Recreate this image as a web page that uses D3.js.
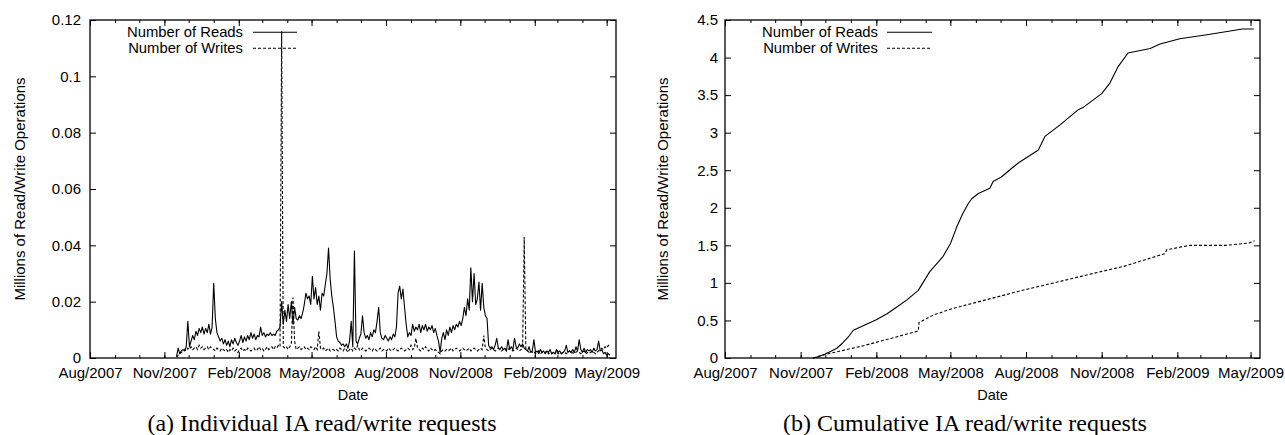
<!DOCTYPE html>
<html><head><meta charset="utf-8">
<script src="https://cdn.jsdelivr.net/npm/d3@7/dist/d3.min.js"></script>
<style>body{margin:0;background:#fff} svg{display:block}</style>
</head><body>
<svg id="chart" width="1285" height="435"></svg>
<script>
// ---------------- DATA ----------------
const seriesNames = ["Number of Reads", "Number of Writes"];
const xTickDates = ["2007-08-01","2007-11-01","2008-02-01","2008-05-01","2008-08-01","2008-11-01","2009-02-01","2009-05-01"];
const xTickLabels = ["Aug/2007","Nov/2007","Feb/2008","May/2008","Aug/2008","Nov/2008","Feb/2009","May/2009"];
const xDomain = ["2007-08-01", "2009-05-12"];

const leftYTicks = [0, 0.02, 0.04, 0.06, 0.08, 0.1, 0.12];
const leftYTickLabels = ["0", "0.02", "0.04", "0.06", "0.08", "0.1", "0.12"];
const rightYTicks = [0, 0.5, 1, 1.5, 2, 2.5, 3, 3.5, 4, 4.5];
const rightYTickLabels = ["0", "0.5", "1", "1.5", "2", "2.5", "3", "3.5", "4", "4.5"];

// (a) individual requests, sampled every 2 days from dailyStart, in thousands of operations
const dailyStart = "2007-11-16";
const dailyStepDays = 2;
const dailyReadsK = [
 0.5,3.5,1.5,2.5,3,2.5,4,13,4,6,
 8,6.5,9.5,8,10.5,9,11,8.5,10.5,9,
 12,8.5,11,26.5,14,9,7.5,6,7,5,
 6.5,4.5,6,4,6.5,5,7,5.5,4.5,6,
 8,5.5,7.5,6,8,6.5,9,7,8.5,6.5,
 8,7.5,11,8,9,7.5,8.5,8,9,8,
 8.5,8,9.5,10,11,20,12,17,13,19,
 14,20,12,18,14,13.5,15,14,16,19,
 23,21,22,19,29,21,25,19,22,17,
 23,22,26,30,39,28,22,18,13,7.5,
 6,5.5,4.5,5,4,5,3.5,6,13,4,
 38,6,5,7,8.5,15,9,7,8,6.5,
 9,7.5,10,9,13,18,9,7,6.5,8,
 7,6,7.5,6.5,8.5,7.5,11,23,25.5,21,
 24.5,18,12,7.5,9,8,12,9.5,11,10,
 12,9,11.5,10,12,9.5,11,10,11.5,9,
 10.5,8,6,2,7,9,6.5,10,8,11,
 9,11.5,10,12,11,13,11.5,14,18,15,
 21,17,32,20,30,19,21,27,17,26.5,
 18,15,14,4.5,3.5,4,3,4.5,7,3.5,
 3,4,3,3.5,2.5,6.5,3,4,3,7,
 4,3.5,5,4,5,3.5,3,2.5,4,2,
 2.5,6.5,2,2.5,1.5,3,2,2.5,1.5,2.5,
 2,3,1.5,2,1.5,3,2,2.5,1.5,2,
 2.5,4.5,2,2.5,2,3,2,4,2.5,6.5,
 3,2,3.5,2,3,2.5,3,2,3.5,2.5,
 3,6,2.5,3,1.5,2,1,1.5,1
];
const dailyWritesK = [
 0.3,1,1.5,2,2.5,3,2.5,3.5,3,4,
 3,3.5,4,3,4.5,3.5,4,3,3.5,4,
 3,4,3.5,3,2.5,3.5,3,2.5,3.5,3,
 2.5,3,2,3,2.5,3.5,2.5,3,2,3,
 3.5,2.5,3,2.5,3.5,3,2.5,3,3.5,2.5,
 3,4,3,3.5,2.5,3,4,3,3.5,4,
 3,4,3.5,4.5,4,116,4,3.5,4,3,
 4,5,21.5,6,3,3.5,4,3,3.5,4,
 3,3.5,3,4,3.5,3,4,3,9.5,3.5,
 3,3.5,2.5,3,3.5,2.5,3,3,2.5,3,
 2.5,3.5,3,2.5,3.5,3,2,3,3.5,2.5,
 3.5,3,4.5,3,2.5,3.5,3,2.5,3,3.5,
 3,2.5,3.5,3,2.5,3,3.5,2.5,3,3,
 2.5,3.5,3,2.5,3,3.5,3,2.5,3,3.5,
 3,2.5,3,3.5,3,4.5,3,3.5,7,3.5,
 3,2.5,3.5,3,4,3,2.5,3.5,3,2.5,
 3,2.5,2,1.5,2.5,3,2.5,3,2.5,3,
 3.5,2.5,3,3.5,3,2.5,3,3.5,3,2.5,
 3,3.5,2.5,3,3.5,3,2.5,3,3.5,3,
 8,3.5,3,2.5,3,3.5,3,2.5,3,3.5,
 3,2.5,3,3.5,2.5,3,3.5,3,2.5,3,
 3.5,3,2.5,3,3.5,43,3,2.5,2,2.5,
 2,2.5,1.5,2,2.5,1.5,2,1.5,2,2.5,
 1.5,2,1.5,2,1.5,2.5,1.5,2,1.5,2,
 2,1.5,2,2.5,1.5,2,1.5,2,2.5,2,
 1.5,2,2.5,1.5,2,1.5,2,2.5,2,1.5,
 2,2.5,3,3.5,3,4,3.5,4.5,4
];

// (b) cumulative requests, millions
const cumReadDates = ["2007-11-16","2007-11-23","2007-11-30","2007-12-08","2007-12-15","2007-12-22","2007-12-29",
 "2008-01-04","2008-01-18","2008-02-01","2008-02-14","2008-02-26","2008-03-10","2008-03-23","2008-04-06",
 "2008-04-22","2008-05-01","2008-05-09","2008-05-16","2008-05-23","2008-05-27","2008-06-04","2008-06-18",
 "2008-06-22","2008-07-02","2008-07-15","2008-07-23","2008-08-16","2008-08-24","2008-09-11","2008-10-04",
 "2008-10-10","2008-11-01","2008-11-11","2008-11-21","2008-12-03","2008-12-30","2009-01-11","2009-02-04",
 "2009-03-13","2009-04-21","2009-05-05"];
const cumReads = [0,0.02,0.05,0.09,0.13,0.2,0.28,
 0.37,0.44,0.51,0.59,0.68,0.78,0.9,1.15,
 1.35,1.52,1.75,1.92,2.06,2.12,2.19,2.26,
 2.35,2.41,2.53,2.6,2.77,2.95,3.1,3.31,
 3.34,3.52,3.66,3.88,4.06,4.12,4.18,4.25,
 4.31,4.38,4.38];
const cumWriteDates = ["2007-11-16","2007-12-02","2008-01-15","2008-02-15","2008-03-23","2008-03-24","2008-03-27",
 "2008-04-10","2008-05-01","2008-05-25","2008-07-31","2008-08-31","2008-10-31","2008-11-28","2009-01-17",
 "2009-01-19","2009-02-16","2009-04-01","2009-04-29","2009-05-06"];
const cumWrites = [0,0.05,0.16,0.25,0.36,0.475,0.49,
 0.57,0.65,0.72,0.91,0.99,1.15,1.22,1.39,
 1.44,1.5,1.5,1.53,1.56];

const captions = ["(a) Individual IA read/write requests", "(b) Cumulative IA read/write requests"];
const xAxisTitle = "Date";
const yAxisTitle = "Millions of Read/Write Operations";

// ---------------- DRAW ----------------
const parse = d3.timeParse("%Y-%m-%d");
const svg = d3.select("#chart");
const SANS = "'Liberation Sans', Arial, Helvetica, sans-serif";
const SERIF = "'Liberation Serif', 'Times New Roman', serif";

const t0 = parse(dailyStart);
const dailyDates = dailyReadsK.map((_, i) => d3.timeDay.offset(t0, i * dailyStepDays));
const readsSeriesA = dailyReadsK.map((v, i) => ({d: dailyDates[i], v: v / 1000}));
const writesSeriesA = dailyWritesK.map((v, i) => ({d: dailyDates[i], v: v / 1000}));
const readsSeriesB = cumReads.map((v, i) => ({d: parse(cumReadDates[i]), v}));
const writesSeriesB = cumWrites.map((v, i) => ({d: parse(cumWriteDates[i]), v}));

const panels = [
  {x0: 90, x1: 616, y0: 20, y1: 358, yMax: 0.12, yTicks: leftYTicks, yLabels: leftYTickLabels, yPad: 9,
   yTitleX: 25, legEnd: 243, legLine: [253, 297], caption: captions[0], capX: 322,
   reads: readsSeriesA, writes: writesSeriesA},
  {x0: 725, x1: 1260, y0: 20, y1: 358, yMax: 4.5, yTicks: rightYTicks, yLabels: rightYTickLabels, yPad: 7,
   yTitleX: 668, legEnd: 878, legLine: [887, 932], caption: captions[1], capX: 965,
   reads: readsSeriesB, writes: writesSeriesB}
];

const majors = xTickDates.map(parse);
const dom = xDomain.map(parse);
const minors = d3.timeMonth.range(dom[0], dom[1]);

panels.forEach(p => {
  const x = d3.scaleTime().domain([dom[0], d3.timeHour.offset(dom[1], 12)]).range([p.x0, p.x1]);
  const y = d3.scaleLinear().domain([0, p.yMax]).range([p.y1, p.y0]);
  const W = p.x1 - p.x0, H = p.y1 - p.y0;
  const g = svg.append("g");

  const styleAxis = sel => {
    sel.select(".domain").remove();
    sel.selectAll("line").attr("stroke", "#000").attr("stroke-width", 1);
    sel.selectAll("text").attr("font-family", SANS).attr("font-size", "15px").attr("fill", "#000");
  };

  // minor month ticks bottom & top
  g.append("g").attr("transform", `translate(0,${p.y1})`)
    .call(d3.axisBottom(x).tickValues(minors).tickSize(-3).tickFormat("")).call(styleAxis);
  g.append("g").attr("transform", `translate(0,${p.y0})`)
    .call(d3.axisTop(x).tickValues(minors).tickSize(-3).tickFormat("")).call(styleAxis);
  // major ticks
  g.append("g").attr("transform", `translate(0,${p.y1})`)
    .call(d3.axisBottom(x).tickValues(majors).tickSize(-6).tickPadding(9.5)
      .tickFormat((d, i) => xTickLabels[i])).call(styleAxis);
  g.append("g").attr("transform", `translate(0,${p.y0})`)
    .call(d3.axisTop(x).tickValues(majors).tickSize(-6).tickFormat("")).call(styleAxis);
  g.append("g").attr("transform", `translate(${p.x0},0)`)
    .call(d3.axisLeft(y).tickValues(p.yTicks).tickSize(-6).tickPadding(p.yPad)
      .tickFormat((d, i) => p.yLabels[i])).call(styleAxis);
  g.append("g").attr("transform", `translate(${p.x1},0)`)
    .call(d3.axisRight(y).tickValues(p.yTicks).tickSize(-6).tickFormat("")).call(styleAxis);

  // frame
  g.append("rect").attr("x", p.x0).attr("y", p.y0).attr("width", W).attr("height", H)
    .attr("fill", "none").attr("stroke", "#000").attr("stroke-width", 1.3);

  const line = d3.line().x(d => x(d.d)).y(d => y(d.v));
  g.append("path").datum(p.reads).attr("d", line)
    .attr("fill", "none").attr("stroke", "#000").attr("stroke-width", 1.1).attr("stroke-linejoin", "round");
  g.append("path").datum(p.writes).attr("d", line)
    .attr("fill", "none").attr("stroke", "#000").attr("stroke-width", 1.1).attr("stroke-dasharray", "3,2");

  // legend
  const legY = [32.3, 48.3];
  seriesNames.forEach((name, i) => {
    g.append("text").attr("x", p.legEnd).attr("y", legY[i]).attr("dy", "0.35em")
      .attr("text-anchor", "end").attr("font-family", SANS).attr("font-size", "14.8px").text(name);
    g.append("line").attr("x1", p.legLine[0]).attr("x2", p.legLine[1])
      .attr("y1", legY[i]).attr("y2", legY[i]).attr("stroke", "#000").attr("stroke-width", 1.1)
      .attr("stroke-dasharray", i === 1 ? "3,2" : null);
  });

  // axis titles
  g.append("text").attr("x", (p.x0 + p.x1) / 2).attr("y", 400).attr("text-anchor", "middle")
    .attr("font-family", SANS).attr("font-size", "14.5px").text(xAxisTitle);
  g.append("text").attr("transform", `translate(${p.yTitleX},${(p.y0 + p.y1) / 2}) rotate(-90)`)
    .attr("text-anchor", "middle").attr("font-family", SANS).attr("font-size", "15px").text(yAxisTitle);

  // caption
  g.append("text").attr("x", p.capX).attr("y", 431).attr("text-anchor", "middle")
    .attr("font-family", SERIF).attr("font-size", "24px").text(p.caption);
});
</script>
</body></html>
